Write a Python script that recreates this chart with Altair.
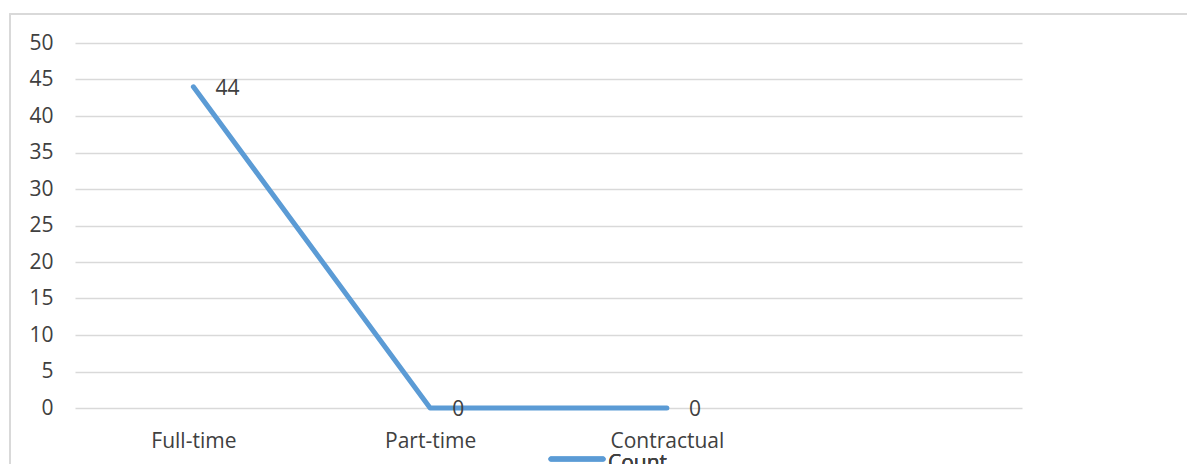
import altair as alt
import pandas as pd

# Employment type counts
categories = ["Full-time", "Part-time", "Contractual"]
counts = [44, 0, 0]

# A blank fourth slot leaves empty room on the right of the axis
x_domain = categories + [" "]
y_ticks = [0, 5, 10, 15, 20, 25, 30, 35, 40, 45, 50]

df = pd.DataFrame({"type": categories, "count": counts})

FONT = "Open Sans"
TEXT = "#404040"
LINE = "#5B9BD5"
FS = 21

x = alt.X("type:N", scale=alt.Scale(domain=x_domain),
          axis=alt.Axis(title=None, labelAngle=0, domain=False, ticks=False,
                        labelPadding=22, labelFontSize=FS, labelColor=TEXT,
                        labelFont=FONT, grid=False, labelOverlap=False))
y = alt.Y("count:Q", scale=alt.Scale(domain=[0, 50], nice=False, zero=True),
          axis=alt.Axis(title=None, values=y_ticks, domain=False,
                        ticks=False, labelPadding=22, labelFontSize=FS,
                        labelColor=TEXT, labelFont=FONT, gridColor="#d9d9d9",
                        gridWidth=1.5, labelOverlap=False, tickCount=11))

base = alt.Chart(df).encode(x=x, y=y)

line = base.mark_line(color=LINE, strokeWidth=5, strokeCap="round",
                      strokeJoin="round")

labels = base.mark_text(dx=22, dy=2, fontSize=FS, font=FONT, color=TEXT,
                        align="left", baseline="middle").encode(text="count:Q")

# Outer chart frame
frame = alt.Chart(df).mark_rect(fill=None, stroke="#d9d9d9", strokeWidth=1.5).encode(
    x=alt.value(-65), x2=alt.value(1140), y=alt.value(-29), y2=alt.value(440))

# Legend entry below the axis
legend_line = alt.Chart(df).mark_rule(color=LINE, strokeWidth=5, strokeCap="round").encode(
    x=alt.value(476), x2=alt.value(528), y=alt.value(416))
legend_text = alt.Chart(df).mark_text(align="left", baseline="middle", fontSize=FS,
                                      font=FONT, color=TEXT).encode(
    x=alt.value(533), y=alt.value(421), text=alt.value("Count"))

chart = alt.layer(frame, line, labels, legend_line, legend_text).properties(
    width=947, height=365,
    autosize=alt.AutoSizeParams(type="none"),
    padding={"left": 75, "top": 43, "right": 165, "bottom": 56},
    background="white",
).configure_view(stroke=None)

chart.save("out.html", embed_options={"renderer": "svg", "actions": False})
